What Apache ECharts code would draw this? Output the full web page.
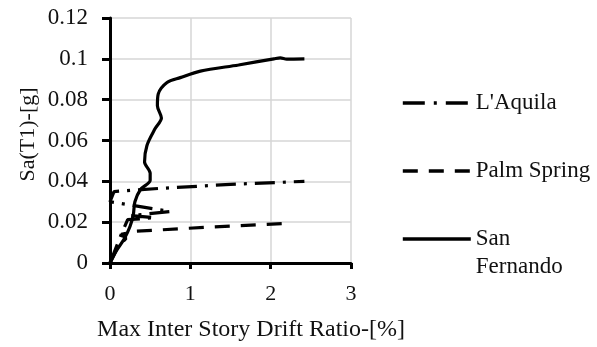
<!DOCTYPE html>
<html>
<head>
<meta charset="utf-8">
<script src="https://cdn.jsdelivr.net/npm/echarts@6/dist/echarts.min.js"></script>
<style>
html,body{margin:0;padding:0;background:#fff;}
#chart{width:597px;height:347px;}
</style>
</head>
<body>
<div id="chart"></div>
<script>
var seriesNames = ["L'Aquila", "Palm Spring", "San Fernando"];
var xTicks = [0, 1, 2, 3];
var yTicks = [0, 0.02, 0.04, 0.06, 0.08, 0.1, 0.12];
var laquila = [[0,0],[0.08,0.008],[0.15,0.015],[0.22,0.0212],[0.56,0.0222],[0.26,0.0232],[0.75,0.0252],[0,0.03],[0.05,0.035],[0.6,0.0365],[1.5,0.0385],[2.42,0.04]];
var palmSpring = [[0,0],[0.1,0.008],[0.2,0.012],[0.14,0.014],[0.3,0.0155],[1.2,0.0175],[2.27,0.0195]];
var sanFernando = [[0,0],[0.08,0.006],[0.18,0.012],[0.25,0.018],[0.29,0.0235],[0.31,0.03],[0.38,0.036],[0.5,0.0405],[0.5,0.044],[0.43,0.0495],[0.46,0.0576],[0.56,0.0657],[0.64,0.071],[0.59,0.077],[0.6,0.0827],[0.71,0.0884],[0.875,0.0908],[1.125,0.094],[1.6,0.097],[2.04,0.1],[2.12,0.1005],[2.2,0.0999],[2.42,0.1]];

var FONT = 'Liberation Serif';
var chart = echarts.init(document.getElementById('chart'), null, {renderer:'canvas'});
function legendFor(name, top, dash){
  return {
    data:[name], left:401, top:top, orient:'vertical', padding:0,
    selectedMode:false, itemWidth:68, itemHeight:14, itemGap:0,
    itemStyle:{opacity:0},
    lineStyle:{width:3.6, color:'#000', type:dash, cap:'butt'},
    formatter: function(n){ return n === 'San Fernando' ? '\nSan\nFernando' : n; },
    textStyle:{fontFamily:FONT, fontSize:23, color:'#111', lineHeight:28}
  };
}
var option = {
  animation:false,
  backgroundColor:'#fff',
  color:['#000','#000','#000'],
  grid:{left:110, top:18, width:241, height:247, containLabel:false},
  legend:[legendFor(seriesNames[0], 89, [22,9,3,9]), legendFor(seriesNames[1], 157, [15,11]), legendFor(seriesNames[2], 197, 'solid')],
  xAxis:{
    type:'value', min:xTicks[0], max:xTicks[xTicks.length-1], interval:1,
    name:'Max Inter Story Drift Ratio-[%]', nameLocation:'middle', nameGap:55,
    nameTextStyle:{fontFamily:FONT, fontSize:24, color:'#111', padding:[0,0,0,41]},
    axisLine:{show:true, onZero:false, lineStyle:{color:'#000', width:3}},
    axisTick:{show:true, length:6, lineStyle:{color:'#000', width:3}},
    axisLabel:{fontFamily:FONT, fontSize:22, color:'#111', margin:20},
    splitLine:{show:true, lineStyle:{color:'#d6d6d6', width:1.5}}
  },
  yAxis:{
    type:'value', min:yTicks[0], max:yTicks[yTicks.length-1], interval:0.02,
    name:'Sa(T1)-[g]', nameLocation:'middle', nameGap:71, nameRotate:90,
    nameTextStyle:{fontFamily:FONT, fontSize:22, color:'#111', padding:[0,0,0,12]},
    axisLine:{show:true, onZero:false, lineStyle:{color:'#000', width:3}},
    axisTick:{show:true, length:8, lineStyle:{color:'#000', width:3}},
    axisLabel:{fontFamily:FONT, fontSize:23, color:'#111', margin:22,
      formatter:function(v){ return String(Math.round(v*100)/100); }},
    splitLine:{show:true, lineStyle:{color:'#d6d6d6', width:1.5}}
  },
  series:[
    {name:seriesNames[0], type:'line', data:laquila, symbol:'none', smooth:false,
     itemStyle:{color:'#000'},
     lineStyle:{color:'#000', width:3.2, type:[20,8,3,8], cap:'butt'}},
    {name:seriesNames[1], type:'line', data:palmSpring, symbol:'none', smooth:false,
     itemStyle:{color:'#000'},
     lineStyle:{color:'#000', width:3.2, type:[15,11], cap:'butt'}},
    {name:seriesNames[2], type:'line', data:sanFernando, symbol:'none', smooth:0.3,
     itemStyle:{color:'#000'},
     lineStyle:{color:'#000', width:3.2, type:'solid'}}
  ]
};
chart.setOption(option);
</script>
</body>
</html>
